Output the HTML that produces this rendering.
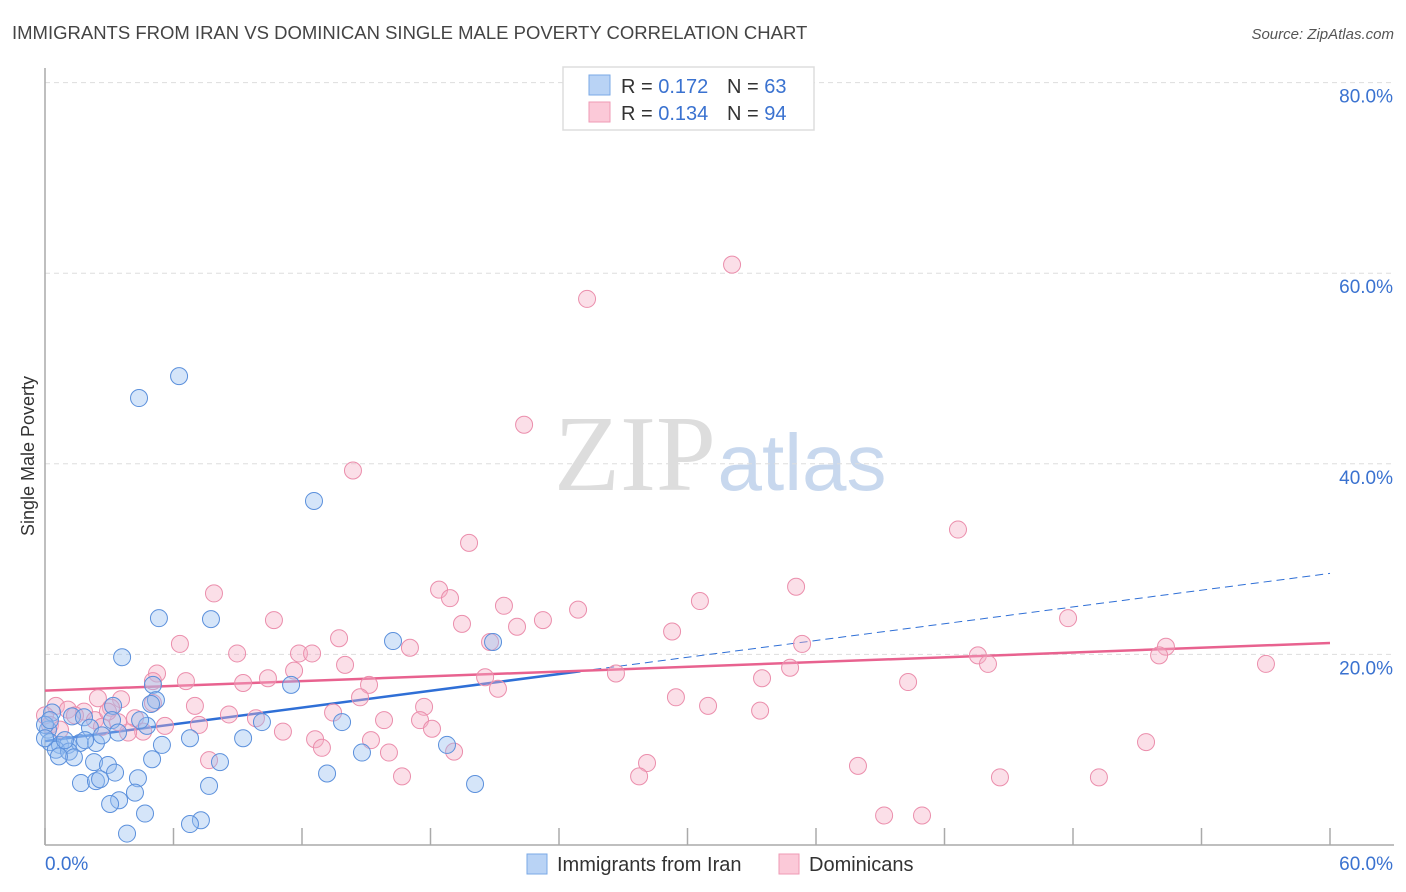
<!DOCTYPE html>
<html><head><meta charset="utf-8"><style>
body{margin:0;background:#fff;font-family:"Liberation Sans",sans-serif;}
svg{display:block}
</style></head><body>
<svg id="chart" width="1406" height="892" xmlns="http://www.w3.org/2000/svg" font-family="Liberation Sans, sans-serif">
<text x="12" y="39" font-size="18.5" fill="#444">IMMIGRANTS FROM IRAN VS DOMINICAN SINGLE MALE POVERTY CORRELATION CHART</text>
<text x="1394" y="39" font-size="15" fill="#555" font-style="italic" text-anchor="end">Source: ZipAtlas.com</text>
<text transform="translate(34,456) rotate(-90)" font-size="18" fill="#333" text-anchor="middle">Single Male Poverty</text>
<g>
<text x="635" y="490" font-size="108" fill="#ddd" text-anchor="middle" font-family="Liberation Serif, serif">ZIP</text>
<text x="802" y="490" font-size="80" fill="#c8d8ee" text-anchor="middle">atlas</text>
</g>
<g id="grid"></g>
<g id="axes"></g>
<g id="lines"></g>
<g id="pts"></g>
<g>
<rect x="563" y="67" width="251" height="63" fill="#fff" stroke="#ddd" stroke-width="1.5"/>
<rect x="589" y="75" width="21" height="20" fill="#b9d3f5" stroke="#7aa8e6"/>
<rect x="589" y="102" width="21" height="20" fill="#fbc9d8" stroke="#ef9ab5"/>
<text x="621" y="93" font-size="20" fill="#333">R = <tspan fill="#3a72d0">0.172</tspan></text>
<text x="727" y="93" font-size="20" fill="#333">N = <tspan fill="#3a72d0">63</tspan></text>
<text x="621" y="120" font-size="20" fill="#333">R = <tspan fill="#3a72d0">0.134</tspan></text>
<text x="727" y="120" font-size="20" fill="#333">N = <tspan fill="#3a72d0">94</tspan></text>
</g>
<g>
<rect x="527" y="854" width="20" height="20" fill="#b9d3f5" stroke="#7aa8e6"/>
<text x="557" y="871" font-size="20" fill="#333">Immigrants from Iran</text>
<rect x="779" y="854" width="20" height="20" fill="#fbc9d8" stroke="#ef9ab5"/>
<text x="809" y="871" font-size="20" fill="#333">Dominicans</text>
</g>
</svg>
<script>
const yTicks=[20,40,60,80];
const yTickLabels=["20.0%","40.0%","60.0%","80.0%"];
const xTicks=[0,6,12,18,24,30,36,42,48,54,60];
const iranX=[6.26,4.39,12.56,5.32,7.75,3.60,16.25,20.92,5.04,11.49,5.18,4.95,3.18,0.33,1.26,1.82,3.13,4.76,10.13,13.87,0.14,2.10,3.41,6.77,9.25,0.23,0.70,1.07,1.63,2.38,5.46,18.77,0.51,1.12,1.35,0.65,5.00,14.80,2.29,2.94,8.17,3.27,4.34,13.17,1.68,2.38,2.57,7.66,20.08,4.20,3.46,3.04,4.67,7.28,6.77,3.83,0.0,0.0,0.23,1.87,0.93,2.66,4.44];
const iranY=[49.2,46.9,36.1,23.8,23.7,19.7,21.4,21.3,16.8,16.8,15.2,14.8,14.6,13.9,13.5,13.4,13.1,12.5,12.9,12.9,12.1,12.3,11.8,11.2,11.2,10.8,10.5,10.5,10.7,10.7,10.5,10.5,10.0,9.8,9.2,9.3,9.0,9.7,8.7,8.4,8.7,7.6,7.0,7.5,6.5,6.7,6.9,6.2,6.4,5.5,4.7,4.3,3.3,2.6,2.2,1.2,12.6,11.2,13.1,11.0,11.0,11.5,13.1];
const domX=[32.08,25.31,22.37,14.38,42.63,19.80,35.07,7.89,18.40,18.91,30.58,21.43,24.89,47.77,10.69,19.47,23.25,22.04,29.28,13.73,20.78,6.30,17.04,35.35,8.97,11.86,12.47,52.34,52.02,43.56,44.03,14.01,57.01,5.23,11.63,34.79,26.66,20.55,6.58,9.25,10.41,5.04,33.48,40.30,15.13,21.15,29.46,14.71,2.47,3.55,17.70,7.00,5.04,30.96,33.39,13.45,0.51,1.07,1.82,3.08,4.20,8.59,9.85,15.83,17.51,5.60,7.19,11.11,18.07,4.58,3.88,12.61,12.93,15.22,16.06,19.10,51.41,0.0,0.23,7.66,28.11,37.96,16.67,27.74,44.59,49.21,39.18,40.95,0.70,1.40,2.33,2.66,3.41,2.94];
const domY=[60.9,57.3,44.1,39.3,33.1,31.7,27.1,26.4,26.8,25.9,25.6,25.1,24.7,23.8,23.6,23.2,23.6,22.9,22.4,21.7,21.3,21.1,20.7,21.1,20.1,20.1,20.1,20.8,19.9,19.9,19.0,18.9,19.0,18.0,18.3,18.6,18.0,17.6,17.2,17.0,17.5,17.2,17.5,17.1,16.8,16.4,15.5,15.5,15.4,15.3,14.5,14.6,14.9,14.6,14.1,13.9,14.6,14.2,14.0,14.4,13.3,13.7,13.3,13.1,13.1,12.5,12.6,11.9,12.2,11.9,11.8,11.1,10.2,11.0,9.7,9.8,10.8,13.6,12.6,8.9,8.6,8.3,7.2,7.2,7.1,7.1,3.1,3.1,12.1,13.6,13.1,12.4,12.9,14.0];
const iranTrend=[10.9,28.5];
const iranSolidEnd=25;
const domTrend=[16.2,21.2];

const NS="http://www.w3.org/2000/svg";
const X=v=>45+v*1285/60;
const Y=v=>845-v*9.53;
function mk(tag,attrs,parent){const e=document.createElementNS(NS,tag);for(const k in attrs)e.setAttribute(k,attrs[k]);parent.appendChild(e);return e;}
const grid=document.getElementById('grid'),axes=document.getElementById('axes'),lines=document.getElementById('lines'),pts=document.getElementById('pts');
yTicks.forEach((t,i)=>{
  const l=mk('line',{x1:45,x2:1394,y1:Y(t),y2:Y(t),stroke:'#ddd','stroke-dasharray':'5,4'},grid);
  
  
  const tx=mk('text',{x:1393,y:Y(t)+20,'font-size':19,fill:'#3a72d0','text-anchor':'end'},axes);
  tx.textContent=yTickLabels[i];
  
  
});
const ya=mk('line',{x1:45,x2:45,y1:68,y2:845,stroke:'#aaa','stroke-width':1.5},axes);


const xa=mk('line',{x1:45,x2:1394,y1:845,y2:845,stroke:'#aaa','stroke-width':1.5},axes);


xTicks.forEach(t=>{
  const l=mk('line',{x1:X(t),x2:X(t),y1:828,y2:845,stroke:'#aaa','stroke-width':1.5},axes);
  
  
});
const x0=mk('text',{x:45,y:870,'font-size':19,fill:'#3a72d0'},axes);x0.textContent='0.0%';


const x1=mk('text',{x:1393,y:870,'font-size':19,fill:'#3a72d0','text-anchor':'end'},axes);x1.textContent='60.0%';


const ty=x=>iranTrend[0]+(iranTrend[1]-iranTrend[0])*x/60;
const bs=mk('line',{x1:X(0),y1:Y(ty(0)),x2:X(iranSolidEnd),y2:Y(ty(iranSolidEnd)),stroke:'#2f6fd6','stroke-width':2.5},lines);


const bd=mk('line',{x1:X(iranSolidEnd),y1:Y(ty(iranSolidEnd)),x2:X(60),y2:Y(ty(60)),stroke:'#2f6fd6','stroke-width':1,'stroke-dasharray':'8,5'},lines);


const pl=mk('line',{x1:X(0),y1:Y(domTrend[0]),x2:X(60),y2:Y(domTrend[1]),stroke:'#e8628f','stroke-width':2.5},lines);


domX.forEach((x,i)=>{
  const c=mk('circle',{cx:X(x),cy:Y(domY[i]),r:8.5,fill:'rgba(246,175,198,0.4)',stroke:'#eb8eac','stroke-width':1},pts);
  
  
});
iranX.forEach((x,i)=>{
  const c=mk('circle',{cx:X(x),cy:Y(iranY[i]),r:8.5,fill:'rgba(150,190,240,0.4)',stroke:'#5b90dc','stroke-width':1},pts);
  
  
});
</script>
</body></html>
